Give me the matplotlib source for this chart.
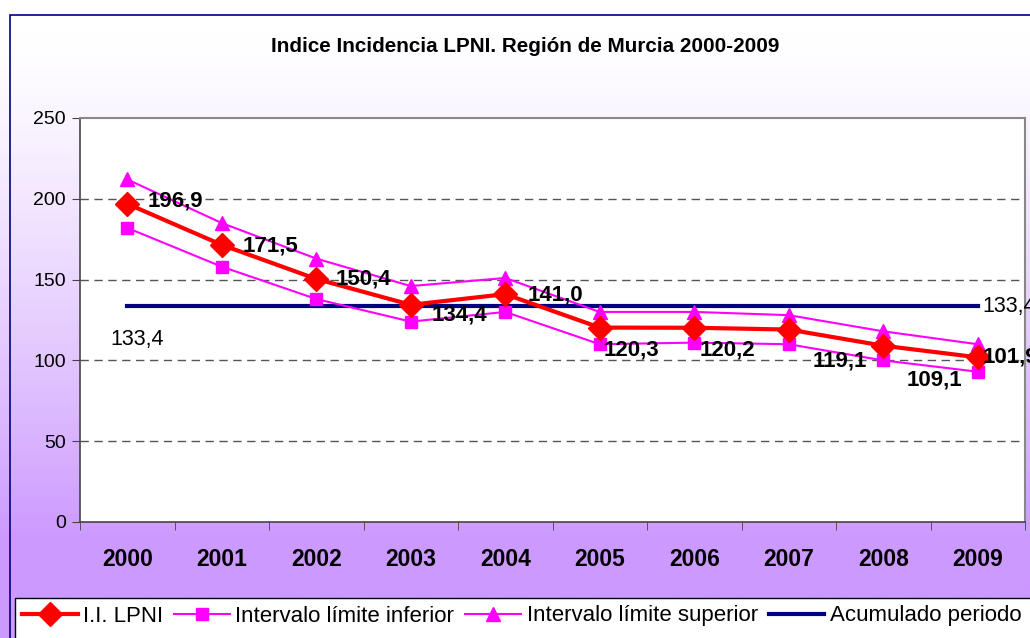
import numpy as np
import matplotlib
matplotlib.use("Agg")
from matplotlib import pyplot as plt
from matplotlib.patches import Rectangle

plt.rcParams['font.family'] = ['Liberation Sans', 'DejaVu Sans']

years = ['2000', '2001', '2002', '2003', '2004', '2005', '2006', '2007', '2008', '2009']
lpni = [196.9, 171.5, 150.4, 134.4, 141.0, 120.3, 120.2, 119.1, 109.1, 101.9]
lpni_labels = ['196,9', '171,5', '150,4', '134,4', '141,0', '120,3', '120,2', '119,1', '109,1', '101,9']
lim_inf = [182, 158, 138, 124, 130, 110, 111, 110, 100, 93]
lim_sup = [212, 185, 163, 146, 151, 130, 130, 128, 118, 110]
acumulado = 133.4
acumulado_label = '133,4'

W, H = 1030, 638
fig = plt.figure(figsize=(W / 100, H / 100), dpi=100)

# background gradient (white -> lavender)
bg = fig.add_axes([0, 0, 1, 1], zorder=-10)
t = np.linspace(0, 1, 400)
t = np.clip((t - 0.05) / 0.8, 0, 1) ** 1.3
top = np.array([1.0, 1.0, 1.0])
bot = np.array([0xCC, 0x99, 0xFF]) / 255
grad = top[None, :] * (1 - t[:, None]) + bot[None, :] * t[:, None]
bg.imshow(grad[:, None, :], aspect='auto', extent=[0, 1, 0, 1], origin='upper')
bg.set_xlim(0, 1)
bg.set_ylim(0, 1)
bg.axis('off')
# outer frame
bg.add_patch(Rectangle((10 / W, -0.1), 1.2, (H - 15) / H + 0.1, fill=False,
                       edgecolor='#000080', lw=1.2))
# legend box
bg.add_patch(Rectangle((15 / W, -0.1), 1.2, (H - 598) / H + 0.1, facecolor='white',
                       edgecolor='black', lw=1.0))

ax = fig.add_axes([80 / W, (H - 522) / H, 945 / W, 404 / H])
x = np.arange(len(years))
ax.set_xlim(-0.5, len(years) - 0.5)
ax.set_ylim(0, 250)
ax.set_facecolor('white')

for v in [50, 100, 150, 200]:
    ax.axhline(v, color='#555555', lw=1, ls=(0, (6, 4)), zorder=1)

ax.plot(x, lim_inf, color='#FF00FF', lw=1.5, marker='s', ms=8, zorder=3,
        label='Intervalo límite inferior')
ax.plot(x, lim_sup, color='#FF00FF', lw=1.5, marker='^', ms=10, zorder=3,
        label='Intervalo límite superior')
ax.plot(x, [acumulado] * len(x), color='#000080', lw=3, zorder=2,
        label='Acumulado periodo')
ax.plot(x, lpni, color='#FF0000', lw=3, marker='D', ms=12, zorder=4,
        label='I.I. LPNI')

# data label offsets in pixels (dx right, dy down)
offs = [(48, -3), (49, 1), (47, 0), (49, 10), (50, 1), (32, 22), (33, 22),
        (51, 31), (51, 34), (33, 0)]
for i, (v, s) in enumerate(zip(lpni, lpni_labels)):
    dx, dy = offs[i]
    ax.annotate(s, (x[i], v), xytext=(dx, -dy), textcoords='offset pixels',
                ha='center', va='center', fontsize=16, fontweight='bold',
                annotation_clip=False, zorder=5)

ax.annotate(acumulado_label, (x[0], acumulado), xytext=(10, -33),
            textcoords='offset pixels', ha='center', va='center', fontsize=15.5)
ax.annotate(acumulado_label, (x[-1], acumulado), xytext=(5, 0),
            textcoords='offset pixels', ha='left', va='center', fontsize=15.5,
            annotation_clip=False)

ax.set_yticks([0, 50, 100, 150, 200, 250])
ax.tick_params(axis='y', labelsize=14, length=6, color='#444444', pad=4)
ax.set_xticks(x)
ax.set_xticklabels(years, fontsize=16.5, fontweight='bold')
ax.tick_params(axis='x', length=0, pad=19)
ax.set_xticks(np.arange(len(years) + 1) - 0.5, minor=True)
ax.tick_params(axis='x', which='minor', length=6, direction='out', color='#444444')

for side in ['top', 'right']:
    ax.spines[side].set_color('#888888')
    ax.spines[side].set_linewidth(1.5)
for side in ['left', 'bottom']:
    ax.spines[side].set_color('#444444')
    ax.spines[side].set_linewidth(1.2)

fig.text(525 / W, 1 - 46 / H, 'Indice Incidencia LPNI. Región de Murcia 2000-2009',
         ha='center', va='center', fontsize=14.9, fontweight='bold')

handles, labels = ax.get_legend_handles_labels()
order = [3, 0, 1, 2]
fig.legend([handles[i] for i in order], [labels[i] for i in order],
           loc='center left', bbox_to_anchor=(22 / W, 1 - 616 / H), ncol=4,
           frameon=False, fontsize=16, handlelength=2.5, handletextpad=0.25,
           columnspacing=0.5, borderpad=0, borderaxespad=0)

fig.savefig('out.png', dpi=100)
